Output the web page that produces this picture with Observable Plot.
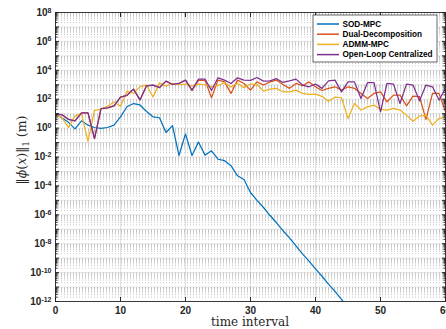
<!DOCTYPE html>
<html>
<head>
<meta charset="utf-8">
<script src="https://cdn.jsdelivr.net/npm/d3@7"></script>
<script src="https://cdn.jsdelivr.net/npm/@observablehq/plot@0.6"></script>
<style>
  html, body { margin: 0; padding: 0; background: #fff; }
  #chart { width: 446px; height: 329px; overflow: hidden; }
</style>
</head>
<body>
<div id="chart"></div>
<script>
// ---- data ----
const seriesNames = ["SOD-MPC", "Dual-Decomposition", "ADMM-MPC", "Open-Loop Centralized"];
const seriesColors = ["#0072BD", "#D95319", "#EDB120", "#7E2F8E"];

// values at time interval 0,1,2,...
const sodMpc = [9.3, 5.0, 2.5, 0.89, 3.2, 1.6, 1.1, 0.95, 1.1, 1.6,
  6.0, 30, 50, 40, 14, 6.0, 5.2, 0.5, 1.5, 0.0126,
  0.4, 0.0126, 0.11, 0.0135, 0.027, 0.007, 0.0056, 0.0025, 5e-4, 2.8e-4,
  3.5e-5, 1e-5, 3.2e-6, 8.9e-7, 2.8e-7, 7.9e-8, 2.5e-8, 7.1e-9, 2e-9, 6.3e-10,
  1.8e-10, 5.6e-11, 1.6e-11, 5e-12, 1.4e-12, 4e-13];

const dualDecomposition = [8.9, 8.5, 4.0, 3.2, 11.2, 11.2, 0.19, 22, 25, 35,
  140, 186, 500, 89, 850, 950, 630, 1780, 1050, 1230,
  2090, 400, 2000, 2000, 126, 2090, 1580, 251, 2090, 1230,
  427, 1580, 955, 1580, 2090, 1050, 562, 1230, 851, 1580,
  724, 398, 562, 724, 427, 724, 562, 251, 112, 251,
  324, 66, 190, 190, 35, 162, 148, 4.0, 251, 251, 13.5];

const admmMpc = [8.9, 5.0, 1.12, 7.1, 10, 0.12, 16.6, 20, 32, 63,
  32, 355, 251, 741, 955, 141, 1350, 794, 1260, 1000,
  1120, 794, 1120, 1000, 708, 891, 1410, 708, 1260, 631,
  1120, 1050, 363, 501, 562, 324, 324, 427, 251, 214,
  224, 158, 71, 141, 126, 4.7, 51, 17.8, 29.5, 38.9,
  19.5, 17.8, 22.9, 17.8, 7.9, 3.0, 6.8, 7.9, 1.6, 4.7, 5.5];

const openLoopCentralized = [8.9, 8.5, 4.0, 3.2, 11.2, 11.2, 0.19, 22, 25, 35,
  140, 186, 500, 89, 850, 950, 630, 1780, 1050, 1230,
  2090, 427, 2450, 2450, 400, 3020, 2090, 1230, 3020, 2090,
  2000, 3160, 1780, 1860, 2630, 1450, 1860, 2450, 955, 724,
  1120, 562, 1860, 2090, 324, 1580, 1580, 112, 1380, 1380,
  13.5, 1230, 1100, 51, 1100, 955, 78, 955, 724, 87, 562];

const xTicks = [0, 10, 20, 30, 40, 50, 60];
const yExponents = [-12, -10, -8, -6, -4, -2, 0, 2, 4, 6, 8];
const xLabel = "time interval";

// ---- build table ----
const seriesValues = [sodMpc, dualDecomposition, admmMpc, openLoopCentralized];
const rows = [];
seriesValues.forEach((vals, s) => vals.forEach((v, i) => rows.push({series: seriesNames[s], t: i, v})));

const yMajor = yExponents.map(e => Math.pow(10, e));
const yAllDecades = d3.range(-12, 9).map(e => Math.pow(10, e));
const yMinor = [];
for (let e = -12; e < 8; e++) for (let m = 2; m <= 9; m++) yMinor.push(m * Math.pow(10, e));

const chart = Plot.plot({
  width: 446,
  height: 329,
  marginTop: 12,
  marginRight: 1,
  marginBottom: 28,
  marginLeft: 55,
  style: {fontFamily: "'Liberation Sans', Arial, sans-serif", fontSize: "10px", fontWeight: "bold", background: "#fff", color: "#262626"},
  x: {domain: [0, 60]},
  y: {type: "log", domain: [1e-12, 1e8]},
  color: {domain: seriesNames, range: seriesColors},
  marks: [
    Plot.gridY(yMinor, {stroke: "#8a8a8a", strokeOpacity: 0.45, strokeDasharray: "1,2"}),
    Plot.gridY(yAllDecades, {stroke: "#000", strokeOpacity: 0.11}),
    Plot.gridX(xTicks, {stroke: "#000", strokeOpacity: 0.11}),
    Plot.line(rows, {x: "t", y: "v", z: "series", stroke: "series", strokeWidth: 1.25, clip: true}),
    Plot.axisY(yMajor, {anchor: "left", tickSize: 0, tickPadding: 4, label: null,
      tickFormat: d => String(Math.round(Math.log10(d)))}),
    Plot.axisX(xTicks, {anchor: "bottom", tickSize: 0, tickPadding: 5, label: null}),
    Plot.axisY(yAllDecades, {anchor: "left", tickSize: -4, tickFormat: () => "", label: null, stroke: "#262626"}),
    Plot.axisY(yMinor, {anchor: "left", tickSize: -2.5, tickFormat: () => "", label: null, stroke: "#262626"}),
    Plot.axisY(yAllDecades, {anchor: "right", tickSize: -4, tickFormat: () => "", label: null, stroke: "#262626"}),
    Plot.axisY(yMinor, {anchor: "right", tickSize: -2.5, tickFormat: () => "", label: null, stroke: "#262626"}),
    Plot.axisX(xTicks, {anchor: "bottom", tickSize: -4, tickFormat: () => "", label: null, stroke: "#262626"}),
    Plot.axisX(xTicks, {anchor: "top", tickSize: -4, tickFormat: () => "", label: null, stroke: "#262626"}),
    Plot.frame({stroke: "#262626", strokeWidth: 0.9})
  ]
});

document.getElementById("chart").appendChild(chart);

const svg = d3.select(chart);
// superscript exponents on y tick labels
svg.selectAll('g[aria-label="y-axis tick label"] text').each(function () {
  const e = this.textContent;
  if (!e) return;
  const t = d3.select(this);
  t.text("10");
  t.append("tspan").attr("dy", "-0.45em").attr("font-size", "7px").text(e);
});

// axis titles
svg.append("text")
  .attr("x", 250).attr("y", 326)
  .attr("text-anchor", "middle")
  .attr("font-family", "'DejaVu Serif', 'Liberation Serif', serif")
  .attr("font-weight", "normal")
  .attr("font-size", "12px")
  .attr("fill", "#262626")
  .text(xLabel);

const yl = svg.append("text")
  .attr("transform", "translate(26,150) rotate(-90)")
  .attr("text-anchor", "middle")
  .attr("font-family", "'DejaVu Serif', 'Liberation Serif', serif")
  .attr("font-weight", "normal")
  .attr("font-size", "12.5px")
  .attr("fill", "#262626");
yl.append("tspan").text("\u2016");
yl.append("tspan").attr("font-style", "italic").text("\u03d5");
yl.append("tspan").text("(");
yl.append("tspan").attr("font-style", "italic").text("x");
yl.append("tspan").text(")\u2016");
yl.append("tspan").attr("font-size", "8.5px").attr("dy", "3").text("1");
yl.append("tspan").attr("dy", "-3").text(" (m)");

// legend (inside the plot, top-right)
const lg = svg.append("g").attr("transform", "translate(313,15)");
lg.append("rect").attr("x", 0).attr("y", 0).attr("width", 124).attr("height", 47)
  .style("fill", "#fff").style("stroke", "#262626").style("stroke-width", "0.7");
seriesNames.forEach((name, i) => {
  const yy = 9 + i * 10.2;
  lg.append("line").attr("x1", 4).attr("x2", 26).attr("y1", yy).attr("y2", yy)
    .style("stroke", seriesColors[i]).style("stroke-width", "1.5");
  lg.append("text").attr("x", 29.5).attr("y", yy).attr("dy", "0.35em")
    .attr("text-anchor", "start")
    .style("font-size", "8.2px").style("font-weight", "bold").style("fill", "#000")
    .text(name);
});
</script>
</body>
</html>
